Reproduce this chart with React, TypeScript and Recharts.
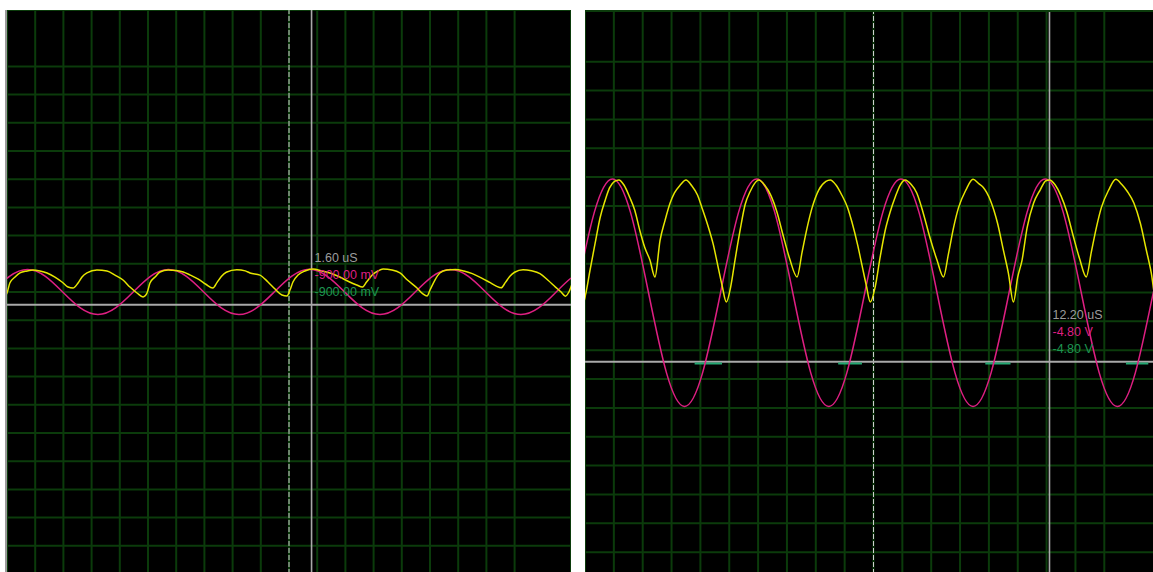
import React from "react"
import {
  LineChart,
  Line,
  XAxis,
  YAxis,
  CartesianGrid,
  ReferenceLine,
  ReferenceDot,
} from "recharts"

// 2 us/div and 2 V/div, 10 divisions each side of centre
const gridTicks = [-20, -18, -16, -14, -12, -10, -8, -6, -4, -2, 0, 2, 4, 6, 8, 10, 12, 14, 16, 18, 20]

// ---- left screen (time in us, volts) ----
const leftYellowT = [
  -20.6, -20.2, -20.0, -19.8, -19.43, -19.08, -18.58, -18.16, -17.66, -17.16, -16.6, -16.1, -15.67, -15.32,
  -14.96, -14.68, -14.33, -13.62, -12.91, -12.34, -11.77, -11.28, -10.78, -10.35,
  -10.07, -9.86, -9.5, -9.15, -8.58, -8.0, -7.5, -7.0, -6.4, -5.9, -5.4, -5.1, -4.8, -4.45, -3.7, -3.1,
  -2.77, -2.06, -1.49, -0.99, -0.5, -0.14,
  0.07, 0.28, 0.64, 1.13, 1.7, 2.34, 2.9, 3.6, 4.3, 4.8, 5.2, 5.5, 5.9, 6.3, 6.67, 7.3, 7.87, 8.4, 9.08, 9.5, 9.79,
  10.0, 10.35, 10.7, 11.2, 11.8, 12.4, 13.0, 13.6, 14.2, 14.7, 15.05, 15.35, 15.65, 16.0, 16.6, 17.2, 17.8,
  18.35, 18.9, 19.3, 19.6, 19.85, 20.1, 20.4,
]
const leftYellowV = [
  0.3, -0.33, -0.07, 0.64, 1.06, 1.35, 1.49, 1.56, 1.49, 1.35, 1.06, 0.71, 0.35, 0.28,
  0.64, 1.06, 1.35, 1.56, 1.49, 1.2, 0.85, 0.35, -0.07, -0.35,
  -0.07, 0.64, 1.06, 1.42, 1.56, 1.52, 1.42, 1.2, 0.9, 0.55, 0.28, 0.68, 1.1, 1.4, 1.58, 1.5,
  1.35, 1.2, 0.71, 0.21, -0.21, -0.28,
  0.14, 0.71, 1.2, 1.49, 1.63, 1.49, 1.35, 1.06, 0.71, 0.5, 0.35, 0.71, 1.2, 1.49, 1.63, 1.56, 1.35, 0.85, 0.28, -0.14, -0.28,
  0.14, 0.85, 1.35, 1.56, 1.6, 1.49, 1.3, 1.02, 0.7, 0.42, 0.3, 0.68, 1.1, 1.4, 1.58, 1.5, 1.3,
  0.85, 0.35, 0.0, -0.3, 0.0, 0.6, 1.0,
]
const leftMagentaT = [
  -21.05, -19.8, -18.55, -17.3, -16.05, -14.8, -13.55, -12.3, -11.05, -9.8, -8.55, -7.3, -6.05, -4.8, -3.55,
  -2.3, -1.05, 0.2, 1.45, 2.7, 3.95, 5.2, 6.45, 7.7, 8.95, 10.2, 11.45, 12.7, 13.95, 15.2, 16.45, 17.7, 18.95,
  20.2, 21.45,
]
const leftMagentaV = [
  0, 1.13, 1.6, 1.13, 0, -1.13, -1.6, -1.13, 0, 1.13, 1.6, 1.13, 0, -1.13, -1.6,
  -1.13, 0, 1.13, 1.62, 1.13, 0, -1.13, -1.6, -1.13, 0, 1.13, 1.6, 1.13, 0, -1.13, -1.6, -1.13, 0,
  1.13, 1.6,
]
const leftCursor = { t: 1.6, v: -0.9 }
const leftLabels = ["1.60 uS", "-900.00 mV", "-900.00 mV"]

// ---- right screen ----
const rightYellowT = [
  -20.4, -20.1, -19.95, -19.65, -19.3, -18.95, -18.6, -18.3, -17.95, -17.65, -17.3, -16.9, -16.55, -16.2, -15.85,
  -15.5, -15.15, -14.8, -14.45, -14.1, -13.8, -13.4, -13.0, -12.6, -12.2, -11.9, -11.5, -11.1, -10.8, -10.5, -10.2,
  -9.9, -9.6, -9.25, -8.9, -8.55, -8.25, -7.95, -7.55, -7.1, -6.7, -6.25, -5.8, -5.3, -4.95, -4.6, -4.25, -3.8,
  -3.3, -3.0, -2.6, -2.2, -1.8, -1.5, -1.1, -0.8, -0.5, -0.22,
  0.12, 0.46, 0.81, 1.16, 1.5, 1.85, 2.2, 2.6, 3.0, 3.45, 3.9, 4.4, 4.85, 5.2, 5.55, 5.9, 6.4, 6.9, 7.3, 7.6,
  8.1, 8.6, 9.0, 9.35, 9.7,
  10.0, 10.3, 10.65, 11.1, 11.55, 11.95, 12.2, 12.6, 13.0, 13.4, 13.85, 14.3, 14.75, 15.1, 15.45, 15.8, 16.3,
  16.8, 17.2, 17.6, 18.05, 18.5, 18.9, 19.25, 19.6, 19.9, 20.2,
]
const rightYellowV = [
  1.5, -0.66, -0.1, 1.56, 3.4, 5.2, 6.4, 7.25, 7.7, 7.8, 7.45, 6.6, 5.7, 4.3, 3.1,
  2.25, 1.08, 3.6, 5.0, 6.2, 6.9, 7.45, 7.8, 7.4, 6.76, 5.9, 4.7, 3.3, 1.9, 0.5, -0.66,
  0.4, 2.25, 4.3, 6.1, 7.0, 7.55, 7.8, 7.45, 6.7, 5.6, 3.9, 2.3, 1.08, 2.8, 4.5, 5.9, 7.1,
  7.7, 7.8, 7.45, 6.76, 5.9, 4.9, 3.3, 1.9, 0.5, -0.66,
  0.4, 2.45, 4.3, 5.6, 6.6, 7.45, 7.8, 7.5, 6.9, 5.5, 3.85, 2.25, 1.08, 2.7, 4.5, 5.9, 7.1, 7.85, 7.55, 7.3,
  6.4, 4.8, 2.95, 1.35, -0.66,
  1.08, 2.25, 4.5, 6.2, 7.1, 7.75, 7.8, 7.45, 6.7, 5.6, 3.9, 2.3, 1.08, 2.8, 4.5, 5.9, 7.1,
  7.85, 7.5, 7.0, 6.2, 4.8, 3.0, 1.4, -0.66, 1.0, 2.4,
]
const rightMagentaT = [
  -20.6, -19.35, -18.1, -16.85, -15.6, -14.35, -13.1, -11.85, -10.6, -9.35, -8.1, -6.85, -5.6, -4.35, -3.1,
  -1.85, -0.6, 0.65, 1.9, 3.15, 4.4, 5.65, 6.9, 8.15, 9.4, 10.65, 11.9, 13.15, 14.4, 15.65, 16.9, 18.15, 19.4,
  20.65,
]
const rightMagentaV = [
  0, 5.57, 7.87, 5.57, 0, -5.57, -7.9, -5.57, 0, 5.57, 7.87, 5.57, 0, -5.57, -7.9,
  -5.57, 0, 5.57, 7.87, 5.57, 0, -5.57, -7.9, -5.57, 0, 5.57, 7.87, 5.57, 0, -5.57, -7.9, -5.57, 0,
  5.57,
]
// green channel only shows as short pieces just under the cursor line
const rightGreenT = [-12.4, -10.5, -10.45, -2.45, -0.8, -0.75, 7.75, 9.5, 9.55, 17.5, 19.05]
const rightGreenV = [-4.93, -4.93, null, -4.93, -4.93, null, -4.93, -4.93, null, -4.93, -4.93]
const rightCursor = { t: 12.2, v: -4.8 }
const rightLabels = ["12.20 uS", "-4.80 V", "-4.80 V"]

type Pt = { t: number; v: number | null }
const zip = (ts: number[], vs: (number | null)[]): Pt[] => ts.map((t, i) => ({ t, v: vs[i] }))

const GRID = "#0b3b0b"
const YELLOW = "#e6e600"
const MAGENTA = "#de1f82"
const GREEN = "#23a872"

const Readout = (props: any) => {
  const { cx, cy, lines } = props
  return (
    <g fontFamily="'Liberation Sans', Arial, sans-serif" fontSize={12.5}>
      <text x={cx + 3} y={cy - 43} fill="#9c9c9c">{lines[0]}</text>
      <text x={cx + 3} y={cy - 26} fill={MAGENTA}>{lines[1]}</text>
      <text x={cx + 3} y={cy - 9} fill="#1e9552">{lines[2]}</text>
    </g>
  )
}

interface ScopeProps {
  size: number
  yellow: Pt[]
  magenta: Pt[]
  green?: Pt[]
  cursor: { t: number; v: number }
  labels: string[]
}

const Scope: React.FC<ScopeProps> = ({ size, yellow, magenta, green, cursor, labels }) => (
  <LineChart width={size} height={size} margin={{ top: 0, right: 0, bottom: 0, left: 0 }}>
    <XAxis type="number" dataKey="t" domain={[-20, 20]} ticks={gridTicks} hide allowDataOverflow />
    <YAxis type="number" dataKey="v" domain={[-20, 20]} ticks={gridTicks} hide allowDataOverflow />
    <CartesianGrid stroke={GRID} strokeWidth={2} />
    <ReferenceLine x={0} stroke="#cfcfcf" strokeDasharray="5 2" />
    <ReferenceLine x={cursor.t} stroke="#a9a9a9" strokeWidth={1.6} />
    <ReferenceLine y={cursor.v} stroke="#a9a9a9" strokeWidth={2} />
    {green && (
      <Line data={green} dataKey="v" type="linear" stroke={GREEN} strokeWidth={2}
        dot={false} activeDot={false} isAnimationActive={false} />
    )}
    <Line data={magenta} dataKey="v" type="natural" stroke={MAGENTA} strokeWidth={1.5}
      dot={false} activeDot={false} isAnimationActive={false} />
    <Line data={yellow} dataKey="v" type="monotone" stroke={YELLOW} strokeWidth={1.5}
      dot={false} activeDot={false} isAnimationActive={false} />
    <ReferenceDot x={cursor.t} y={cursor.v} r={0}
      shape={(p: any) => <Readout cx={p.cx} cy={p.cy} lines={labels} />} />
  </LineChart>
)

export default function App() {
  return (
    <div style={{ position: "fixed", left: 0, top: 0, width: 1153, height: 572, background: "#fff", overflow: "hidden" }}>
      <div style={{ position: "absolute", left: 5, top: 10, width: 566, height: 570, background: "#000",
        borderLeft: "2px solid #9a9a9a", boxSizing: "border-box" }}>
        <div style={{ position: "absolute", left: 0, top: 0 }}>
          <Scope size={564} yellow={zip(leftYellowT, leftYellowV)} magenta={zip(leftMagentaT, leftMagentaV)}
            cursor={leftCursor} labels={leftLabels} />
        </div>
      </div>
      <div style={{ position: "absolute", left: 585, top: 10, width: 568, height: 562, background: "#000", overflow: "hidden" }}>
        <div style={{ position: "absolute", left: 0, top: -5.8 }}>
          <Scope size={577} yellow={zip(rightYellowT, rightYellowV)} magenta={zip(rightMagentaT, rightMagentaV)}
            green={zip(rightGreenT, rightGreenV)} cursor={rightCursor} labels={rightLabels} />
        </div>
        <div style={{ position: "absolute", left: 0, top: 0, width: "100%", height: 2, background: GRID }} />
      </div>
    </div>
  )
}
